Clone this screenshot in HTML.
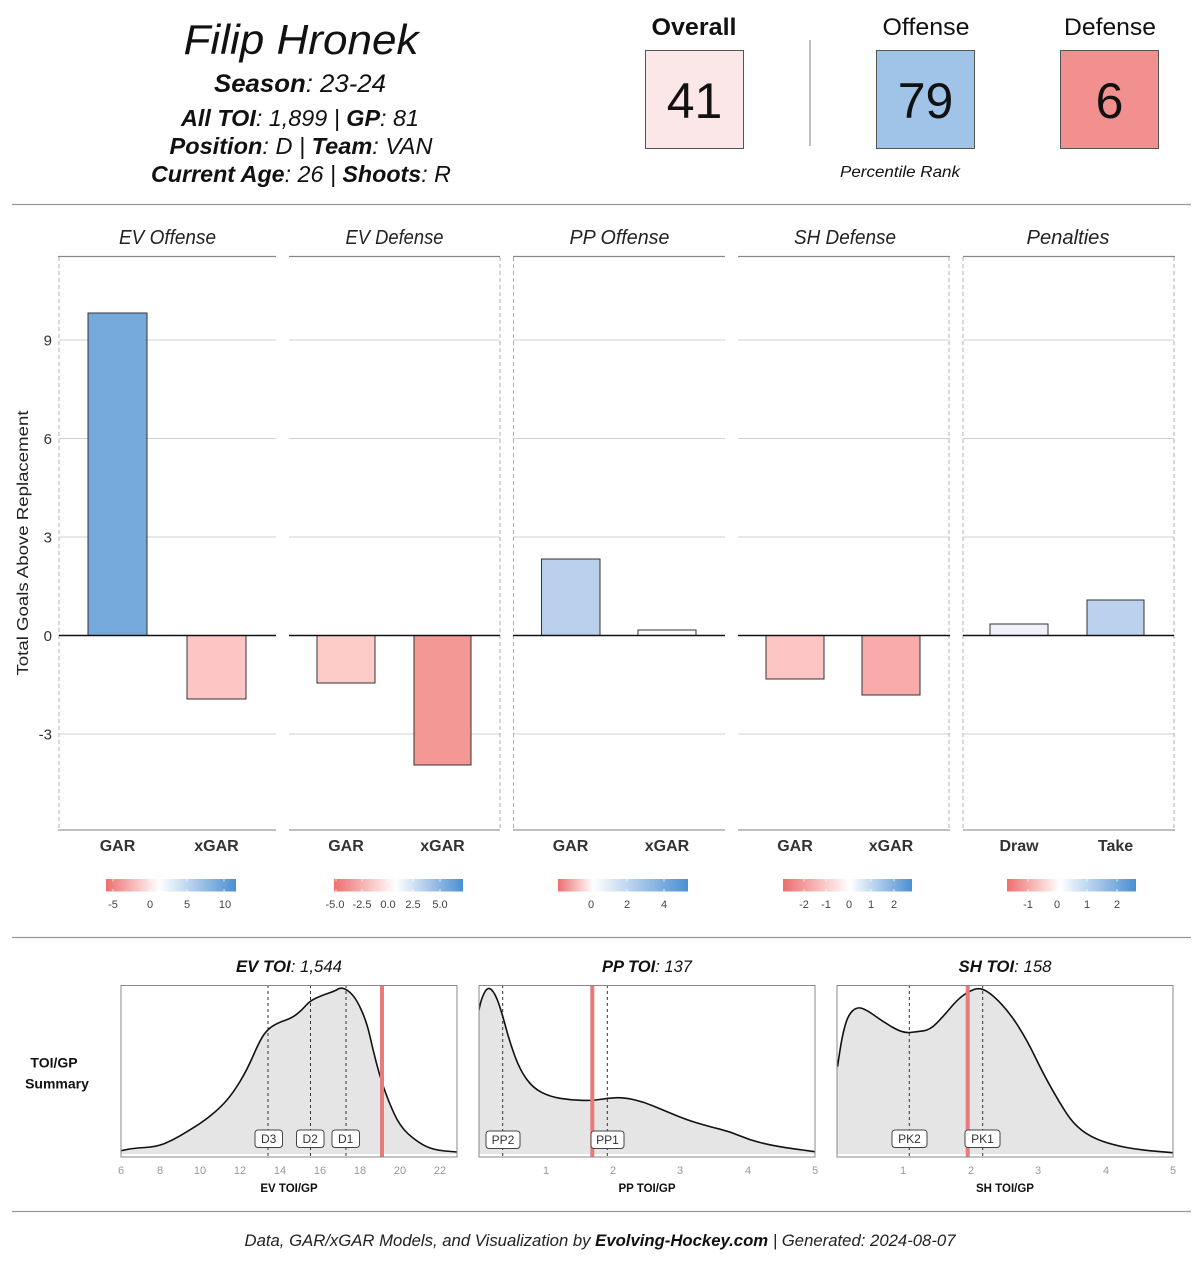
<!DOCTYPE html>
<html><head><meta charset="utf-8"><style>
html,body{margin:0;padding:0;background:#fff;}
svg{display:block;font-family:"Liberation Sans",sans-serif;}
</style></head><body>
<svg width="1200" height="1275" viewBox="0 0 1200 1275" xmlns="http://www.w3.org/2000/svg">
<defs>
<linearGradient id="g1" x1="0" x2="1" y1="0" y2="0"><stop offset="0" stop-color="#ee6f6f"/><stop offset="0.41" stop-color="#ffffff"/><stop offset="1" stop-color="#4b8fd2"/></linearGradient>
<linearGradient id="g2" x1="0" x2="1" y1="0" y2="0"><stop offset="0" stop-color="#ee6f6f"/><stop offset="0.48" stop-color="#ffffff"/><stop offset="1" stop-color="#4b8fd2"/></linearGradient>
<linearGradient id="g3" x1="0" x2="1" y1="0" y2="0"><stop offset="0" stop-color="#ee6f6f"/><stop offset="0.27" stop-color="#ffffff"/><stop offset="1" stop-color="#4b8fd2"/></linearGradient>
<linearGradient id="g4" x1="0" x2="1" y1="0" y2="0"><stop offset="0" stop-color="#ee6f6f"/><stop offset="0.52" stop-color="#ffffff"/><stop offset="1" stop-color="#4b8fd2"/></linearGradient>
<linearGradient id="g5" x1="0" x2="1" y1="0" y2="0"><stop offset="0" stop-color="#ee6f6f"/><stop offset="0.41" stop-color="#ffffff"/><stop offset="1" stop-color="#4b8fd2"/></linearGradient>
<clipPath id="c1"><rect x="121" y="985" width="336" height="172"/></clipPath>
<clipPath id="c2"><rect x="479" y="985" width="336" height="172"/></clipPath>
<clipPath id="c3"><rect x="837" y="985" width="336" height="172"/></clipPath>
</defs>

<!-- Header left -->
<g fill="#111" text-anchor="middle">
<text x="301" y="54" font-size="42" font-style="italic" textLength="235" lengthAdjust="spacingAndGlyphs">Filip Hronek</text>
<text x="300" y="92" font-size="25" font-style="italic" textLength="172" lengthAdjust="spacingAndGlyphs"><tspan font-weight="bold">Season</tspan>: 23-24</text>
<text x="300" y="126" font-size="23" font-style="italic" textLength="238" lengthAdjust="spacingAndGlyphs"><tspan font-weight="bold">All TOI</tspan>: 1,899 | <tspan font-weight="bold">GP</tspan>: 81</text>
<text x="301" y="154" font-size="23" font-style="italic" textLength="263" lengthAdjust="spacingAndGlyphs"><tspan font-weight="bold">Position</tspan>: D | <tspan font-weight="bold">Team</tspan>: VAN</text>
<text x="301" y="182" font-size="23" font-style="italic" textLength="300" lengthAdjust="spacingAndGlyphs"><tspan font-weight="bold">Current Age</tspan>: 26 | <tspan font-weight="bold">Shoots</tspan>: R</text>
</g>

<!-- Header right -->
<g text-anchor="middle" fill="#111">
<text x="694" y="35" font-size="24" font-weight="bold" textLength="85" lengthAdjust="spacingAndGlyphs">Overall</text>
<text x="926" y="35" font-size="24" textLength="87" lengthAdjust="spacingAndGlyphs">Offense</text>
<text x="1110" y="35" font-size="24" textLength="92" lengthAdjust="spacingAndGlyphs">Defense</text>
</g>
<rect x="645.5" y="50.5" width="98" height="98" fill="#fbe7e7" stroke="#555" stroke-width="1"/>
<rect x="876.5" y="50.5" width="98" height="98" fill="#9fc4e8" stroke="#555" stroke-width="1"/>
<rect x="1060.5" y="50.5" width="98" height="98" fill="#f28f8f" stroke="#555" stroke-width="1"/>
<line x1="810" y1="40" x2="810" y2="146" stroke="#aaa" stroke-width="1.5"/>
<g text-anchor="middle" fill="#111" font-size="50">
<text x="694.5" y="118">41</text>
<text x="925.5" y="118">79</text>
<text x="1109.5" y="118">6</text>
</g>
<text x="900" y="177" font-size="16" font-style="italic" fill="#111" text-anchor="middle" textLength="120" lengthAdjust="spacingAndGlyphs">Percentile Rank</text>

<!-- rules -->
<line x1="12" y1="204.5" x2="1191" y2="204.5" stroke="#999" stroke-width="1.2"/>
<line x1="12" y1="937.5" x2="1191" y2="937.5" stroke="#999" stroke-width="1.2"/>
<line x1="12" y1="1211.5" x2="1191" y2="1211.5" stroke="#999" stroke-width="1.2"/>

<!-- Bar panels: gridlines -->
<g stroke="#d0d0d0" stroke-width="1">
<line x1="59" y1="340" x2="276" y2="340"/><line x1="59" y1="438.5" x2="276" y2="438.5"/><line x1="59" y1="537" x2="276" y2="537"/><line x1="59" y1="734" x2="276" y2="734"/>
<line x1="289" y1="340" x2="500" y2="340"/><line x1="289" y1="438.5" x2="500" y2="438.5"/><line x1="289" y1="537" x2="500" y2="537"/><line x1="289" y1="734" x2="500" y2="734"/>
<line x1="513" y1="340" x2="725" y2="340"/><line x1="513" y1="438.5" x2="725" y2="438.5"/><line x1="513" y1="537" x2="725" y2="537"/><line x1="513" y1="734" x2="725" y2="734"/>
<line x1="738" y1="340" x2="950" y2="340"/><line x1="738" y1="438.5" x2="950" y2="438.5"/><line x1="738" y1="537" x2="950" y2="537"/><line x1="738" y1="734" x2="950" y2="734"/>
<line x1="963" y1="340" x2="1174" y2="340"/><line x1="963" y1="438.5" x2="1174" y2="438.5"/><line x1="963" y1="537" x2="1174" y2="537"/><line x1="963" y1="734" x2="1174" y2="734"/>
</g>
<!-- dashed verticals -->
<g stroke="#b0b0b0" stroke-width="1" stroke-dasharray="4,3">
<line x1="59" y1="257" x2="59" y2="830"/>
<line x1="500" y1="257" x2="500" y2="830"/>
<line x1="513.5" y1="257" x2="513.5" y2="830"/>
<line x1="949" y1="257" x2="949" y2="830"/>
<line x1="963" y1="257" x2="963" y2="830"/>
<line x1="1174" y1="257" x2="1174" y2="830"/>
</g>
<!-- strip lines & bottom lines -->
<g stroke="#888" stroke-width="1.3">
<line x1="58" y1="256.5" x2="276" y2="256.5"/><line x1="289" y1="256.5" x2="500" y2="256.5"/><line x1="513" y1="256.5" x2="725" y2="256.5"/><line x1="738" y1="256.5" x2="950" y2="256.5"/><line x1="963" y1="256.5" x2="1175" y2="256.5"/>
</g>
<g stroke="#999" stroke-width="1.2">
<line x1="58" y1="830" x2="276" y2="830"/><line x1="289" y1="830" x2="500" y2="830"/><line x1="513" y1="830" x2="725" y2="830"/><line x1="738" y1="830" x2="950" y2="830"/><line x1="963" y1="830" x2="1175" y2="830"/>
</g>
<!-- strip titles -->
<g font-size="20" font-style="italic" fill="#222" text-anchor="middle">
<text x="167.5" y="244" textLength="97" lengthAdjust="spacingAndGlyphs">EV Offense</text>
<text x="394.5" y="244" textLength="98" lengthAdjust="spacingAndGlyphs">EV Defense</text>
<text x="619.5" y="244" textLength="100" lengthAdjust="spacingAndGlyphs">PP Offense</text>
<text x="845" y="244" textLength="102" lengthAdjust="spacingAndGlyphs">SH Defense</text>
<text x="1068" y="244" textLength="83" lengthAdjust="spacingAndGlyphs">Penalties</text>
</g>

<!-- bars -->
<g stroke="#333" stroke-width="1">
<rect x="88" y="313" width="59" height="322.5" fill="#76a9db"/>
<rect x="187" y="635.5" width="59" height="63.5" fill="#fdc5c4"/>
<rect x="317" y="635.5" width="58" height="47.5" fill="#fdcbc8"/>
<rect x="414" y="635.5" width="57" height="129.5" fill="#f49896"/>
<rect x="541.5" y="559" width="58.5" height="76.5" fill="#b9cfeb"/>
<rect x="638" y="630" width="58" height="5.5" fill="#fdfdfe"/>
<rect x="766" y="635.5" width="58" height="43.5" fill="#fcc5c4"/>
<rect x="862" y="635.5" width="58" height="59.5" fill="#f9abab"/>
<rect x="990" y="624" width="58" height="11.5" fill="#eef1f9"/>
<rect x="1087" y="600" width="57" height="35.5" fill="#bcd1ee"/>
</g>
<!-- zero lines -->
<g stroke="#111" stroke-width="1.4">
<line x1="59" y1="635.5" x2="276" y2="635.5"/><line x1="289" y1="635.5" x2="500" y2="635.5"/><line x1="513" y1="635.5" x2="725" y2="635.5"/><line x1="738" y1="635.5" x2="950" y2="635.5"/><line x1="963" y1="635.5" x2="1174" y2="635.5"/>
</g>

<!-- y axis -->
<g font-size="15" fill="#333" text-anchor="end">
<text x="52" y="345.5">9</text>
<text x="52" y="444">6</text>
<text x="52" y="542.5">3</text>
<text x="52" y="641">0</text>
<text x="52" y="739.5">-3</text>
</g>
<text transform="translate(28,543) rotate(-90)" font-size="16" fill="#222" text-anchor="middle" textLength="265" lengthAdjust="spacingAndGlyphs">Total Goals Above Replacement</text>

<!-- x labels -->
<g font-size="16" font-weight="bold" fill="#333" text-anchor="middle">
<text x="117.5" y="851">GAR</text><text x="216.5" y="851">xGAR</text>
<text x="346" y="851">GAR</text><text x="442.5" y="851">xGAR</text>
<text x="570.5" y="851">GAR</text><text x="667" y="851">xGAR</text>
<text x="795" y="851">GAR</text><text x="891" y="851">xGAR</text>
<text x="1019" y="851">Draw</text><text x="1115.5" y="851">Take</text>
</g>

<!-- legends -->
<rect x="106" y="879" width="130" height="12.5" fill="url(#g1)"/>
<rect x="334" y="879" width="129" height="12.5" fill="url(#g2)"/>
<rect x="558" y="879" width="130" height="12.5" fill="url(#g3)"/>
<rect x="783" y="879" width="129" height="12.5" fill="url(#g4)"/>
<rect x="1007" y="879" width="129" height="12.5" fill="url(#g5)"/>
<g stroke="#fff" stroke-width="1" opacity="0.8">
<path d="M113 879v2.5M113 891.5v-2.5M150 879v2.5M150 891.5v-2.5M187 879v2.5M187 891.5v-2.5M224 879v2.5M224 891.5v-2.5"/>
<path d="M336 879v2.5M336 891.5v-2.5M362 879v2.5M362 891.5v-2.5M388 879v2.5M388 891.5v-2.5M413 879v2.5M413 891.5v-2.5M440 879v2.5M440 891.5v-2.5"/>
<path d="M591 879v2.5M591 891.5v-2.5M627 879v2.5M627 891.5v-2.5M664 879v2.5M664 891.5v-2.5"/>
<path d="M804 879v2.5M804 891.5v-2.5M826 879v2.5M826 891.5v-2.5M849 879v2.5M849 891.5v-2.5M871 879v2.5M871 891.5v-2.5M894 879v2.5M894 891.5v-2.5"/>
<path d="M1028 879v2.5M1028 891.5v-2.5M1057 879v2.5M1057 891.5v-2.5M1087 879v2.5M1087 891.5v-2.5M1117 879v2.5M1117 891.5v-2.5"/>
</g>
<g font-size="11" fill="#444" text-anchor="middle">
<text x="113" y="908">-5</text><text x="150" y="908">0</text><text x="187" y="908">5</text><text x="225" y="908">10</text>
<text x="335" y="908">-5.0</text><text x="362" y="908">-2.5</text><text x="388" y="908">0.0</text><text x="413" y="908">2.5</text><text x="440" y="908">5.0</text>
<text x="591" y="908">0</text><text x="627" y="908">2</text><text x="664" y="908">4</text>
<text x="804" y="908">-2</text><text x="826" y="908">-1</text><text x="849" y="908">0</text><text x="871" y="908">1</text><text x="894" y="908">2</text>
<text x="1028" y="908">-1</text><text x="1057" y="908">0</text><text x="1087" y="908">1</text><text x="1117" y="908">2</text>
</g>

<!-- TOI/GP summary label -->
<g font-size="14" font-weight="bold" fill="#111" text-anchor="middle">
<text x="54" y="1067.5">TOI/GP</text>
<text x="57" y="1088.5">Summary</text>
</g>

<!-- density titles -->
<g font-size="17" font-style="italic" fill="#111" text-anchor="middle">
<text x="289" y="972" textLength="106" lengthAdjust="spacingAndGlyphs"><tspan font-weight="bold">EV TOI</tspan>: 1,544</text>
<text x="647" y="972" textLength="90" lengthAdjust="spacingAndGlyphs"><tspan font-weight="bold">PP TOI</tspan>: 137</text>
<text x="1005" y="972" textLength="93" lengthAdjust="spacingAndGlyphs"><tspan font-weight="bold">SH TOI</tspan>: 158</text>
</g>

<!-- EV density -->
<g clip-path="url(#c1)">
<path d="M121 1154 L121 1150.7 L127 1149.5 Q133 1148.3 145 1147.5 Q157 1146.7 165 1143.35 Q173 1140 180 1135.85 Q187 1131.7 195 1126.7 Q203 1121.7 211.5 1114.85 Q220 1108 226.5 1100.5 Q233 1093 240 1081.5 Q247 1070 253.5 1055 Q260 1040 264 1034.5 Q268 1029 273 1025.85 Q278 1022.7 285 1020.35 Q292 1018 297 1014 Q302 1010 306 1005.35 Q310 1000.7 316.5 997.85 Q323 995 328 993.35 Q333 991.7 336.5 990 Q340 987.3 344 988.65 Q348 990 352.5 995 Q357 1000 362 1011.5 Q367 1023 370 1036.5 Q373 1050 376.5 1063.35 Q380 1076.7 384 1088.35 Q388 1100 394 1113.35 Q400 1126.7 408.5 1134.2 Q417 1141.7 425 1145.85 Q433 1150 445 1151 L457 1152 L457 1154 Z" fill="#e5e5e5"/>
<g stroke="#333" stroke-width="1" stroke-dasharray="3,3"><line x1="268" y1="985" x2="268" y2="1157"/><line x1="310.5" y1="985" x2="310.5" y2="1157"/><line x1="346" y1="985" x2="346" y2="1157"/></g>
<path d="M121 1150.7 L127 1149.5 Q133 1148.3 145 1147.5 Q157 1146.7 165 1143.35 Q173 1140 180 1135.85 Q187 1131.7 195 1126.7 Q203 1121.7 211.5 1114.85 Q220 1108 226.5 1100.5 Q233 1093 240 1081.5 Q247 1070 253.5 1055 Q260 1040 264 1034.5 Q268 1029 273 1025.85 Q278 1022.7 285 1020.35 Q292 1018 297 1014 Q302 1010 306 1005.35 Q310 1000.7 316.5 997.85 Q323 995 328 993.35 Q333 991.7 336.5 990 Q340 987.3 344 988.65 Q348 990 352.5 995 Q357 1000 362 1011.5 Q367 1023 370 1036.5 Q373 1050 376.5 1063.35 Q380 1076.7 384 1088.35 Q388 1100 394 1113.35 Q400 1126.7 408.5 1134.2 Q417 1141.7 425 1145.85 Q433 1150 445 1151 L457 1152" fill="none" stroke="#111" stroke-width="1.6" stroke-linejoin="round"/>
<line x1="382" y1="985" x2="382" y2="1157" stroke="#e97a7a" stroke-width="4"/>
</g>
<rect x="121" y="985.5" width="336" height="171.5" fill="none" stroke="#888" stroke-width="1"/>
<g font-size="12" fill="#333" text-anchor="middle">
<rect x="255" y="1130" width="27.5" height="17.5" rx="3" fill="#fff" stroke="#444"/><text x="268.7" y="1143">D3</text>
<rect x="296.5" y="1130" width="27.5" height="17.5" rx="3" fill="#fff" stroke="#444"/><text x="310.2" y="1143">D2</text>
<rect x="332" y="1130" width="27.5" height="17.5" rx="3" fill="#fff" stroke="#444"/><text x="345.7" y="1143">D1</text>
</g>
<g font-size="11" fill="#999" text-anchor="middle">
<text x="121" y="1174">6</text><text x="160" y="1174">8</text><text x="200" y="1174">10</text><text x="240" y="1174">12</text><text x="280" y="1174">14</text><text x="320" y="1174">16</text><text x="360" y="1174">18</text><text x="400" y="1174">20</text><text x="440" y="1174">22</text>
</g>
<text x="289" y="1192" font-size="11.5" font-weight="bold" fill="#111" text-anchor="middle">EV TOI/GP</text>

<!-- PP density -->
<g clip-path="url(#c2)">
<path d="M478.5 1154 L478.5 1011.7 L480.25 1004.2 Q482 996.7 485 991.6 Q488 986.5 491.5 989.75 Q495 993 498.5 1003 Q502 1013 506 1028 Q510 1043 515 1056.5 Q520 1070 526.5 1079 Q533 1088 541.5 1092.35 Q550 1096.7 560 1098.35 Q570 1100 581 1100.35 Q592 1100.7 599.5 1099.5 Q607 1098.3 615 1097.8 Q623 1097.3 633 1099.5 Q643 1101.7 653 1105.85 Q663 1110 675 1115 Q687 1120 698.5 1123.35 Q710 1126.7 720 1129.2 Q730 1131.7 740 1135.85 Q750 1140 760 1142.5 Q770 1145 780 1146.65 Q790 1148.3 802.5 1150 L815 1151.7 L815 1154 Z" fill="#e5e5e5"/>
<g stroke="#333" stroke-width="1" stroke-dasharray="3,3"><line x1="502.7" y1="985" x2="502.7" y2="1157"/><line x1="607.3" y1="985" x2="607.3" y2="1157"/></g>
<path d="M478.5 1011.7 L480.25 1004.2 Q482 996.7 485 991.6 Q488 986.5 491.5 989.75 Q495 993 498.5 1003 Q502 1013 506 1028 Q510 1043 515 1056.5 Q520 1070 526.5 1079 Q533 1088 541.5 1092.35 Q550 1096.7 560 1098.35 Q570 1100 581 1100.35 Q592 1100.7 599.5 1099.5 Q607 1098.3 615 1097.8 Q623 1097.3 633 1099.5 Q643 1101.7 653 1105.85 Q663 1110 675 1115 Q687 1120 698.5 1123.35 Q710 1126.7 720 1129.2 Q730 1131.7 740 1135.85 Q750 1140 760 1142.5 Q770 1145 780 1146.65 Q790 1148.3 802.5 1150 L815 1151.7" fill="none" stroke="#111" stroke-width="1.6" stroke-linejoin="round"/>
<line x1="592.3" y1="985" x2="592.3" y2="1157" stroke="#e97a7a" stroke-width="4"/>
</g>
<rect x="479" y="985.5" width="336" height="171.5" fill="none" stroke="#888" stroke-width="1"/>
<g font-size="12" fill="#333" text-anchor="middle">
<rect x="486" y="1131" width="34" height="17.5" rx="3" fill="#fff" stroke="#444"/><text x="503" y="1144">PP2</text>
<rect x="591" y="1131" width="33" height="17.5" rx="3" fill="#fff" stroke="#444"/><text x="607.5" y="1144">PP1</text>
</g>
<g font-size="11" fill="#999" text-anchor="middle">
<text x="546" y="1174">1</text><text x="613" y="1174">2</text><text x="680" y="1174">3</text><text x="748" y="1174">4</text><text x="815" y="1174">5</text>
</g>
<text x="647" y="1192" font-size="11.5" font-weight="bold" fill="#111" text-anchor="middle">PP TOI/GP</text>

<!-- SH density -->
<g clip-path="url(#c3)">
<path d="M837.5 1154 L837.5 1066.7 L839.75 1051.7 Q842 1036.7 845 1025.85 Q848 1015 852.5 1010.85 Q857 1006.7 862 1008.35 Q867 1010 875 1015.85 Q883 1021.7 893 1027.5 Q903 1033.3 910 1032.5 Q917 1031.7 923.5 1030.85 Q930 1030 936.5 1023.35 Q943 1016.7 950 1008.35 Q957 1000 962.5 995.85 Q968 991.7 974 989.5 Q980 987.3 986.5 991.15 Q993 995 1001.5 1004.15 Q1010 1013.3 1018.5 1026.65 Q1027 1040 1035 1056.65 Q1043 1073.3 1051.5 1088.3 Q1060 1103.3 1066.5 1113.3 Q1073 1123.3 1081.5 1130 Q1090 1136.7 1101.5 1140.85 Q1113 1145 1126.5 1147.5 Q1140 1150 1156.5 1151.35 L1173 1152.7 L1173 1154 Z" fill="#e5e5e5"/>
<g stroke="#333" stroke-width="1" stroke-dasharray="3,3"><line x1="909.3" y1="985" x2="909.3" y2="1157"/><line x1="982.7" y1="985" x2="982.7" y2="1157"/></g>
<path d="M837.5 1066.7 L839.75 1051.7 Q842 1036.7 845 1025.85 Q848 1015 852.5 1010.85 Q857 1006.7 862 1008.35 Q867 1010 875 1015.85 Q883 1021.7 893 1027.5 Q903 1033.3 910 1032.5 Q917 1031.7 923.5 1030.85 Q930 1030 936.5 1023.35 Q943 1016.7 950 1008.35 Q957 1000 962.5 995.85 Q968 991.7 974 989.5 Q980 987.3 986.5 991.15 Q993 995 1001.5 1004.15 Q1010 1013.3 1018.5 1026.65 Q1027 1040 1035 1056.65 Q1043 1073.3 1051.5 1088.3 Q1060 1103.3 1066.5 1113.3 Q1073 1123.3 1081.5 1130 Q1090 1136.7 1101.5 1140.85 Q1113 1145 1126.5 1147.5 Q1140 1150 1156.5 1151.35 L1173 1152.7" fill="none" stroke="#111" stroke-width="1.6" stroke-linejoin="round"/>
<line x1="967.7" y1="985" x2="967.7" y2="1157" stroke="#e97a7a" stroke-width="4"/>
</g>
<rect x="837" y="985.5" width="336" height="171.5" fill="none" stroke="#888" stroke-width="1"/>
<g font-size="12" fill="#333" text-anchor="middle">
<rect x="892" y="1130" width="35" height="17.5" rx="3" fill="#fff" stroke="#444"/><text x="909.5" y="1143">PK2</text>
<rect x="965" y="1130" width="35" height="17.5" rx="3" fill="#fff" stroke="#444"/><text x="982.5" y="1143">PK1</text>
</g>
<g font-size="11" fill="#999" text-anchor="middle">
<text x="903" y="1174">1</text><text x="971" y="1174">2</text><text x="1038" y="1174">3</text><text x="1106" y="1174">4</text><text x="1173" y="1174">5</text>
</g>
<text x="1005" y="1192" font-size="11.5" font-weight="bold" fill="#111" text-anchor="middle">SH TOI/GP</text>

<!-- footer -->
<text x="600" y="1246" font-size="17" font-style="italic" fill="#222" text-anchor="middle" textLength="711" lengthAdjust="spacingAndGlyphs">Data, GAR/xGAR Models, and Visualization by <tspan font-weight="bold" fill="#111">Evolving-Hockey.com</tspan> | Generated: 2024-08-07</text>
</svg>
</body></html>
